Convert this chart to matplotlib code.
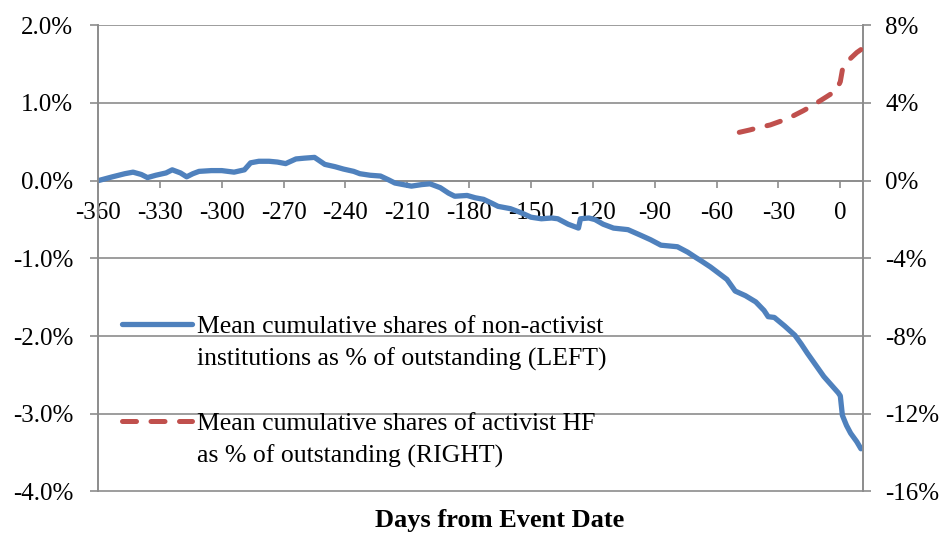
import matplotlib
matplotlib.use("Agg")
import matplotlib.pyplot as plt
from matplotlib.lines import Line2D
from matplotlib.ticker import FuncFormatter

# ---- data ----
days_inst = [-360, -353, -347, -343, -339, -336, -332, -327, -324, -320, -317, -314, -311,
             -305, -300, -294, -289, -286, -282, -277, -273, -269, -264, -260, -255, -250,
             -245, -241, -236, -233, -228, -223, -219, -216, -212, -208, -203, -199, -194,
             -190, -187, -181, -177, -173, -169, -166, -160, -155, -150, -145, -140, -137,
             -132, -127, -126, -122, -119, -115, -110, -103, -97, -92, -87, -83, -79, -74,
             -70, -67, -63, -59, -55, -51, -46, -41, -37, -35, -32, -27, -22, -19, -16,
             -12, -8, -4, -1, 0, 1, 3, 5, 8, 10]
inst_pct = [0.00, 0.05, 0.09, 0.11, 0.08, 0.04, 0.07, 0.10, 0.14, 0.10, 0.05, 0.09, 0.12,
            0.13, 0.13, 0.11, 0.14, 0.23, 0.25, 0.25, 0.24, 0.22, 0.28, 0.29, 0.30, 0.21,
            0.18, 0.15, 0.12, 0.09, 0.07, 0.06, 0.01, -0.03, -0.05, -0.07, -0.05, -0.04, -0.09,
            -0.16, -0.20, -0.19, -0.22, -0.24, -0.29, -0.33, -0.36, -0.41, -0.47, -0.49, -0.48, -0.49,
            -0.56, -0.61, -0.49, -0.48, -0.50, -0.56, -0.61, -0.63, -0.70, -0.76, -0.83, -0.84, -0.85, -0.92,
            -0.99, -1.04, -1.11, -1.19, -1.27, -1.42, -1.48, -1.56, -1.67, -1.75, -1.76, -1.87, -1.99, -2.10, -2.22,
            -2.37, -2.52, -2.64, -2.73, -2.77, -3.02, -3.15, -3.25, -3.36, -3.45]

days_hf = [-49, -44, -39, -34, -28, -23, -18, -13, -7, -2, 0, 1, 3, 5, 8, 10]
hf_pct = [2.49, 2.61, 2.75, 2.87, 3.10, 3.33, 3.60, 3.90, 4.30, 4.64, 5.10, 5.70, 6.05, 6.30, 6.60, 6.75]

x_ticks = [-360, -330, -300, -270, -240, -210, -180, -150, -120, -90, -60, -30, 0]
left_ticks = [-4, -3, -2, -1, 0, 1, 2]
right_ticks = [-16, -12, -8, -4, 0, 4, 8]

label_inst = ["Mean cumulative shares of non-activist", "institutions as % of outstanding (LEFT)"]
label_hf = ["Mean cumulative shares of activist HF", "as % of outstanding (RIGHT)"]
x_title = "Days from Event Date"

# ---- style ----
plt.rcParams['font.family'] = ['Liberation Serif', 'DejaVu Serif']
plt.rcParams['axes.unicode_minus'] = False
FS = 18
FS_LEG = 18.5
BLUE = '#4F81BD'
RED = '#C0504D'
GRID = '#8C8C8C'

fig = plt.figure(figsize=(9.43, 5.37), dpi=100)
ax = fig.add_axes([98/943, 1 - 491.5/537, (863 - 98)/943, (491.5 - 25.3)/537])
ax2 = ax.twinx()

ax.set_xlim(-360, 11)
ax.set_ylim(-4, 2)
ax2.set_ylim(-16, 8)

ax.set_yticks(left_ticks)
ax2.set_yticks(right_ticks)
ax.set_xticks(x_ticks)
ax.yaxis.set_major_formatter(FuncFormatter(lambda v, p: f"{v:.1f}%"))
ax2.yaxis.set_major_formatter(FuncFormatter(lambda v, p: f"{v:.0f}%"))

ax.grid(axis='y', color=GRID, lw=1.2)
ax.set_axisbelow(True)

for a in (ax, ax2):
    for s in a.spines.values():
        s.set_color(GRID)
        s.set_linewidth(1.2)
    a.spines['top'].set_visible(False)
ax.spines['bottom'].set_position(('data', 0))
ax2.spines['bottom'].set_visible(False)

ax.tick_params(axis='y', direction='out', length=6, width=1.2, color=GRID, pad=12, labelsize=FS)
ax2.tick_params(axis='y', direction='out', length=6, width=1.2, color=GRID, pad=10, labelsize=FS)
ax.tick_params(axis='x', direction='out', length=5, width=1.2, color=GRID, pad=10, labelsize=FS)

l1, = ax.plot(days_inst, inst_pct, color=BLUE, lw=3.8, solid_capstyle='round', solid_joinstyle='round', zorder=3)
l2, = ax2.plot(days_hf, hf_pct, color=RED, lw=3.6, dashes=(2.8, 2.9), dash_capstyle='round', zorder=3)

blank = Line2D([], [], color='none')
handles = [l1, blank, blank, l2, blank]
labels = [label_inst[0], label_inst[1], " ", label_hf[0], label_hf[1]]
leg = ax2.legend(handles, labels, loc='upper left', bbox_to_anchor=(0.032, 0.378),
                 frameon=False, fontsize=FS_LEG, handlelength=2.7, handletextpad=0.2,
                 labelspacing=0.36, borderpad=0, borderaxespad=0)

fig.text(500/943, 1 - 521/537, x_title, ha='center', va='center', fontsize=19, fontweight='bold')

fig.savefig('out.png', dpi=100)
